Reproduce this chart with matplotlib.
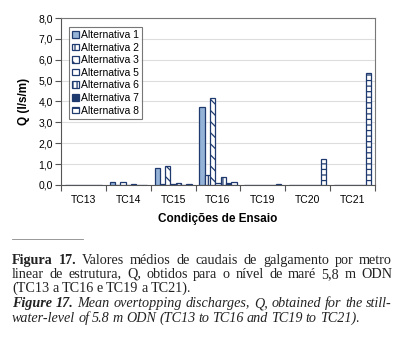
import numpy as np
import matplotlib
matplotlib.use('Agg')
import matplotlib.pyplot as plt

# Data
conditions = ['TC13', 'TC14', 'TC15', 'TC16', 'TC19', 'TC20', 'TC21']
alt_names = ['Alternativa 1', 'Alternativa 2', 'Alternativa 3', 'Alternativa 5',
             'Alternativa 6', 'Alternativa 7', 'Alternativa 8']
alt1 = [0.0, 0.12, 0.80, 3.72, 0.0, 0.0, 0.0]
alt2 = [0.0, 0.02, 0.05, 0.50, 0.0, 0.0, 0.0]
alt3 = [0.0, 0.12, 0.93, 4.15, 0.0, 0.0, 0.0]
alt5 = [0.0, 0.02, 0.05, 0.10, 0.0, 0.0, 0.0]
alt6 = [0.0, 0.05, 0.10, 0.40, 0.0, 0.0, 0.0]
alt7 = [0.0, 0.00, 0.02, 0.08, 0.0, 0.0, 0.0]
alt8 = [0.0, 0.02, 0.05, 0.15, 0.06, 1.25, 5.35]
series = [alt1, alt2, alt3, alt5, alt6, alt7, alt8]

caption_pt = [
    [("Figura 17.", 'bold'), ("Valores médios de caudais de galgamento por metro", 'normal')],
    [("linear de estrutura, Q, obtidos para o nível de maré 5,8 m ODN", 'normal')],
    [("(TC13 a TC16 e TC19 a TC21).", 'normal')],
]
caption_en = [
    [("Figure 17.", 'bolditalic'), ("Mean overtopping discharges, Q, obtained for the still-", 'italic')],
    [("water-level of 5.8 m ODN (TC13 to TC16 and TC19 to TC21).", 'italic')],
]

navy = '#1F3A6E'
fills = ['#95B3D7', 'white', 'white', 'white', 'white', navy, 'white']
hatches = [None, '|||', '\\\\\\', None, '||||', None, '---']

plt.rcParams['font.family'] = ['Liberation Sans', 'DejaVu Sans']
plt.rcParams['hatch.linewidth'] = 0.9

fig = plt.figure(figsize=(4.0, 3.4), dpi=100)
ax = fig.add_axes([0.1525, 0.456, 0.785, 0.491])

x = np.arange(len(conditions))
bw = 0.118
for i, vals in enumerate(series):
    off = (i - 3) * bw
    ax.bar(x + off, vals, width=bw, color=fills[i], edgecolor=navy,
           hatch=hatches[i], linewidth=0.9, label=alt_names[i], zorder=3)

ax.set_xlim(-0.5, len(conditions) - 0.5)
ax.set_ylim(0, 8)
ax.set_yticks(np.arange(0, 9, 1))
ax.set_yticklabels([('%.1f' % v).replace('.', ',') for v in range(9)], fontsize=7.5)
ax.set_xticks(np.arange(-0.5, len(conditions), 1))
ax.set_xticklabels([])
ax.set_xticks(x, minor=True)
ax.set_xticklabels(conditions, minor=True, fontsize=7.5)
ax.tick_params(axis='x', which='minor', length=0, pad=7)
ax.tick_params(axis='x', which='major', length=4, color='#555555')
ax.tick_params(axis='y', length=4, color='#555555', pad=2)
ax.grid(axis='y', color='#DDDDDD', linewidth=0.8, zorder=0)
for s in ['top', 'right']:
    ax.spines[s].set_color('#777777')
for s in ['left', 'bottom']:
    ax.spines[s].set_color('#555555')
ax.set_ylabel('Q (l/s/m)', fontsize=8.5, fontweight='bold', labelpad=6)
ax.set_xlabel('Condições de Ensaio', fontsize=8.5, fontweight='bold', labelpad=6)

leg = ax.legend(loc='upper left', bbox_to_anchor=(0.02, 0.96), fontsize=7.5,
                frameon=True, fancybox=False, edgecolor='#555555',
                handlelength=0.6, handleheight=0.6, handletextpad=0.2,
                labelspacing=0.25, borderpad=0.3, borderaxespad=0.2)
leg.get_frame().set_linewidth(0.8)

# caption below the chart
fig.add_artist(plt.Line2D([12 / 400, 83 / 400], [1 - 239 / 340, 1 - 239 / 340],
                          color='#888888', linewidth=0.6))

renderer = fig.canvas.get_renderer()
styles = {
    'normal': dict(fontweight='normal', fontstyle='normal'),
    'bold': dict(fontweight='bold', fontstyle='normal'),
    'italic': dict(fontweight='normal', fontstyle='italic'),
    'bolditalic': dict(fontweight='bold', fontstyle='italic'),
}


def lay_line(segments, ypix, justify):
    words = []
    for txt, st in segments:
        for w in txt.split(' '):
            words.append((w, st))
    arts = []
    widths = []
    for w, st in words:
        t = fig.text(0, 1 - (ypix + 4) / 340, w, fontsize=10.2, family='Liberation Serif',
                     color='#222222', va='baseline', ha='left', **styles[st])
        bb = t.get_window_extent(renderer)
        arts.append(t)
        widths.append(bb.width)
    x0, x1 = 12.0, 392.0
    if justify:
        gap = (x1 - x0 - sum(widths)) / (len(words) - 1)
    else:
        gap = 3.0
    xp = x0
    for t, wd in zip(arts, widths):
        t.set_x(xp / 400)
        xp += wd + gap


lay_line(caption_pt[0], 260, True)
lay_line(caption_pt[1], 274, True)
lay_line(caption_pt[2], 288, False)
lay_line(caption_en[0], 303, True)
lay_line(caption_en[1], 318, False)

fig.savefig('out.png', dpi=100)
